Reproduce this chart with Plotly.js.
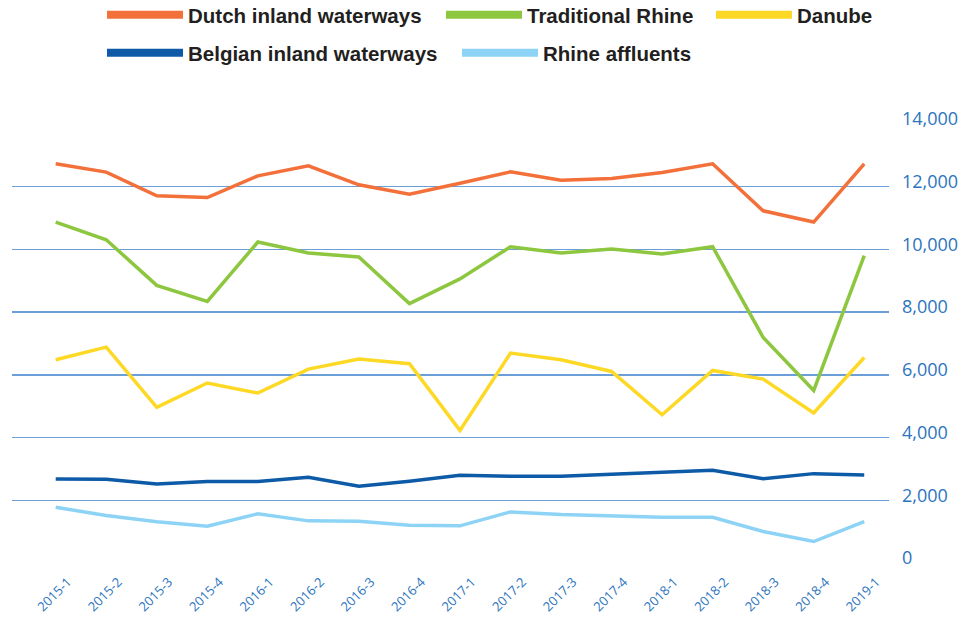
<!DOCTYPE html>
<html>
<head>
<meta charset="utf-8">
<script src="https://cdn.plot.ly/plotly-3.0.1.min.js"></script>
<style>
  html, body { margin: 0; padding: 0; background: #ffffff; }
  #chart { width: 967px; height: 619px; }
</style>
</head>
<body>
<div id="chart"></div>
<script>
var categories = ['2015-1','2015-2','2015-3','2015-4','2016-1','2016-2','2016-3','2016-4',
  '2017-1','2017-2','2017-3','2017-4','2018-1','2018-2','2018-3','2018-4','2019-1'];

var dutchInland = [12730, 12465, 11710, 11656, 12347, 12666, 12061, 11764,
  12110, 12475, 12210, 12261, 12452, 12730, 11232, 10873, 12730];
var traditionalRhine = [10873, 10309, 8854, 8344, 10236, 9885, 9758, 8271,
  9060, 10086, 9885, 10013, 9853, 10086, 7192, 5503, 9800];
var danube = [6481, 6885, 4962, 5739, 5420, 6185, 6503, 6354,
  4229, 6694, 6481, 6108, 4729, 6140, 5866, 4783, 6554];
var belgianInland = [2681, 2670, 2522, 2596, 2596, 2733, 2447, 2606,
  2797, 2765, 2765, 2818, 2892, 2955, 2691, 2850, 2809];
var rhineAffluents = [1777, 1513, 1312, 1172, 1567, 1344, 1331, 1204,
  1185, 1630, 1545, 1490, 1459, 1459, 1003, 685, 1322];

var seriesNames = ['Dutch inland waterways', 'Traditional Rhine', 'Danube',
  'Belgian inland waterways', 'Rhine affluents'];
var seriesValues = [dutchInland, traditionalRhine, danube, belgianInland, rhineAffluents];
var seriesColors = ['#F3703A', '#8DC63F', '#FDD925', '#0D5AA7', '#8DD3F5'];
var legendGroupOf = ['legend', 'legend', 'legend', 'legend2', 'legend2'];
var legendWidths = [248, 179, 80, 264, 160];

var traces = [];
// data lines
for (var i = 0; i < seriesNames.length; i++) {
  traces.push({
    type: 'scatter', mode: 'lines',
    x: categories, y: seriesValues[i],
    name: seriesNames[i],
    line: { color: seriesColors[i], width: 3.5 },
    showlegend: false,
    hoverinfo: 'x+y+name'
  });
}
// legend entries (thicker key lines, as in the reference)
for (var j = 0; j < seriesNames.length; j++) {
  traces.push({
    type: 'scatter', mode: 'lines',
    x: [null], y: [null],
    name: seriesNames[j],
    line: { color: seriesColors[j], width: 8 },
    showlegend: true,
    legend: legendGroupOf[j],
    legendwidth: legendWidths[j],
    hoverinfo: 'skip'
  });
}

function legendFont() {
  return { family: '"Liberation Sans", Arial, sans-serif',
    size: 20.5, color: '#231F20', weight: 'bold' };
}

var layout = {
  width: 967, height: 619,
  margin: { l: 12, r: 78, t: 124, b: 56, pad: 0 },
  paper_bgcolor: '#ffffff', plot_bgcolor: '#ffffff',
  font: { family: '"Open Sans", sans-serif' },
  showlegend: true,
  legend: {
    orientation: 'h', xref: 'container', yref: 'container',
    x: 102 / 967, xanchor: 'left', y: 1 - 15 / 619, yanchor: 'middle',
    itemwidth: 76,
    font: legendFont(), bgcolor: 'rgba(0,0,0,0)', borderwidth: 0,
    itemclick: false, itemdoubleclick: false
  },
  legend2: {
    orientation: 'h', xref: 'container', yref: 'container',
    x: 102 / 967, xanchor: 'left', y: 1 - 53 / 619, yanchor: 'middle',
    itemwidth: 76,
    font: legendFont(), bgcolor: 'rgba(0,0,0,0)', borderwidth: 0,
    itemclick: false, itemdoubleclick: false
  },
  xaxis: {
    type: 'category',
    range: [-0.865, 16.49],
    tickangle: -45,
    showgrid: false, zeroline: false, showline: false,
    ticks: '',
    ticklabelstandoff: 8,
    ticklabelshift: 12,
    tickfont: { family: '"Open Sans", sans-serif', size: 13, color: '#2C74BE' },
    fixedrange: true
  },
  yaxis: {
    side: 'right',
    range: [0, 14000],
    dtick: 2000, tick0: 0,
    tickformat: ',d',
    showgrid: true, gridcolor: '#6A9FD8', gridwidth: 1.5,
    zeroline: false, showline: false,
    ticks: '',
    ticklabelstandoff: 12,
    ticklabelshift: -5,
    tickfont: { family: '"Open Sans", sans-serif', size: 18, color: '#2C74BE' },
    fixedrange: true
  }
};

Plotly.newPlot('chart', traces, layout, { displayModeBar: false, staticPlot: true });
</script>
</body>
</html>
